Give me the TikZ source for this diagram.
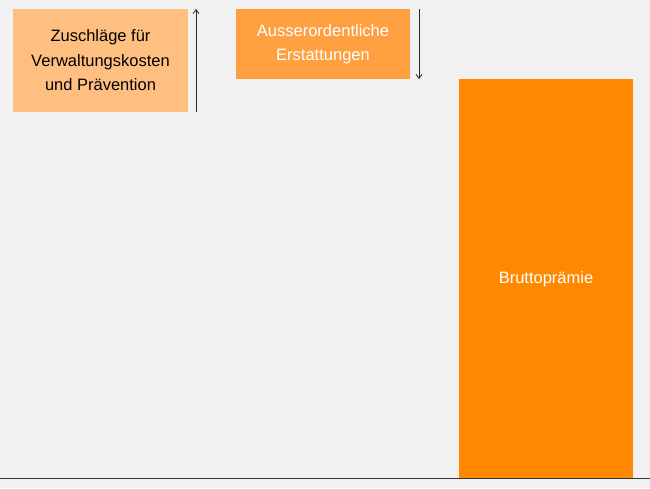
\documentclass[tikz,border=0pt]{standalone}
\usepackage{fontspec}
\setmainfont{Liberation Sans}
\usetikzlibrary{arrows.meta}
\definecolor{bg}{HTML}{F1F1F1}
\definecolor{oa}{HTML}{FFBF80}
\definecolor{ob}{HTML}{FFA040}
\definecolor{oc}{HTML}{FF8800}
\begin{document}
\begin{tikzpicture}[x=1pt,y=-1pt,
  box/.style={draw=none,inner sep=0pt,align=center,font=\fontsize{16.5}{24.5}\selectfont},
  arr/.style={-{Straight Barb[length=4pt,width=6pt]},line width=0.8pt,draw=black!85}]
\fill[bg] (0,0) rectangle (650,488);
\useasboundingbox (0,0) rectangle (650,488);
\fill[oa] (13,9) rectangle (188,112);
\node[box,text=black] (z) at (100.5,60.5) {Zuschläge für\\Verwaltungskosten\\und Prävention};
\fill[ob] (236,9) rectangle (410,79);
\node[box,text=white] (a) at (323,44) {Ausserordentliche\\Erstattungen};
\fill[oc] (459,79) rectangle (633,478);
\node[box,text=white] (b) at (546,279) {Bruttoprämie};
\coordinate (u1) at (196,112); \coordinate (u2) at (196,9);
\coordinate (d1) at (419,9); \coordinate (d2) at (419,79);
\draw[arr] (u1) -- (u2);
\draw[arr] (d1) -- (d2);
\coordinate (l1) at (0,478.5); \coordinate (l2) at (650,478.5);
\draw[line width=1pt,black!80] (l1) -- (l2);
\end{tikzpicture}
\end{document}
